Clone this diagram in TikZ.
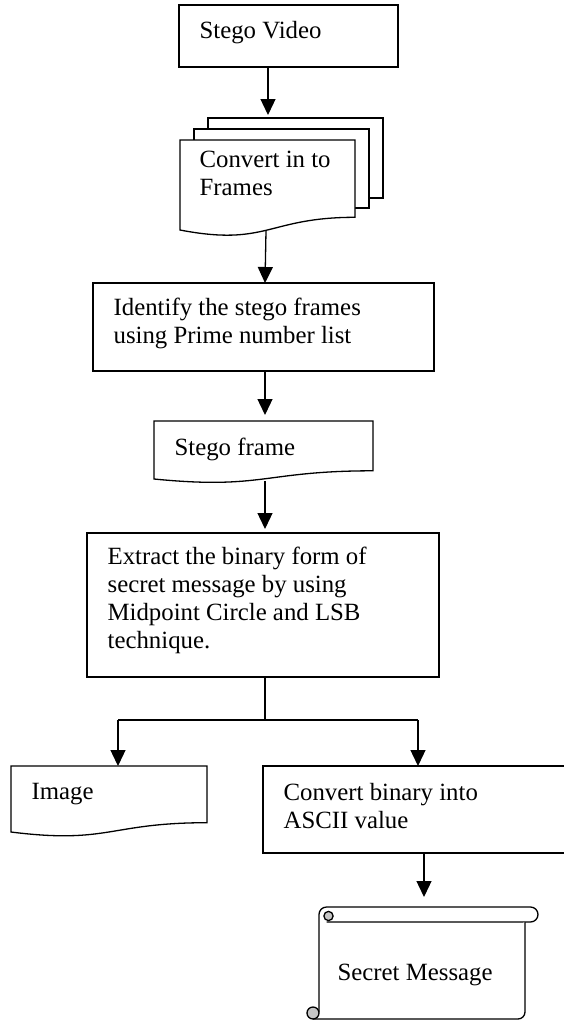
\documentclass[tikz,border=0pt]{standalone}
\usepackage{fontspec}
\setmainfont{Liberation Serif}
\usetikzlibrary{arrows.meta}
\begin{document}
\begin{tikzpicture}[x=1pt,y=-1pt,line width=1.3pt,
  txt/.style={anchor=base west,inner sep=0pt,font=\fontsize{24.8}{28}\selectfont},
  box/.style={draw,rectangle,anchor=north west,inner sep=0pt,outer sep=0pt,fill=white},
  ghost/.style={rectangle,anchor=north west,inner sep=0pt,outer sep=0pt},
  arr/.style={-{Triangle[width=15pt,length=16pt]},line width=1.3pt},
  page/.style={draw,fill=white},
  curl/.style={draw,fill=gray!45}]
\useasboundingbox (0,0) rectangle (564,1021);
\clip (0,0) rectangle (564,1021);

% Stego Video
\node[box,minimum width=219pt,minimum height=62pt] (sv) at (179,5) {};
\node[txt] (tsv) at (199,38) {Stego Video};

% multi-document
\node[box,minimum width=175pt,minimum height=80pt] (back) at (208,118) {};
\node[box,minimum width=175pt,minimum height=79pt] (mid) at (194,129) {};
\draw[page] (180,140) -- (355,140) -- (355,217.3) .. controls (267.5,217.3) and (267.5,246.8) .. (180,230) -- cycle;
\node[ghost,minimum width=175pt,minimum height=90pt] (front) at (180,140) {};
\coordinate (frontb) at (266,231);
\node[txt] (tc1) at (199,167) {Convert in to};
\node[txt] (tc2) at (199,195) {Frames};

% Identify
\node[box,minimum width=341pt,minimum height=88pt] (id) at (93,283) {};
\node[txt] (ti1) at (113,315) {Identify the stego frames};
\node[txt] (ti2) at (113,343) {using Prime number list};

% Stego frame document
\draw[page] (154,421) -- (373,421) -- (373,470.8) .. controls (263.5,470.8) and (263.5,489.8) .. (154,479) -- cycle;
\node[ghost,minimum width=219pt,minimum height=58pt] (sf) at (154,421) {};
\coordinate (sfb) at (265,481);
\node[txt] (tsf) at (174,455) {Stego frame};

% Extract
\node[box,minimum width=352pt,minimum height=144pt] (ex) at (87,533) {};
\node[txt] (te1) at (107,564) {Extract the binary form of};
\node[txt] (te2) at (107,592) {secret message by using};
\node[txt] (te3) at (107,620) {Midpoint Circle and LSB};
\node[txt] (te4) at (107,648) {technique.};

% Image document
\draw[page] (11,766) -- (207,766) -- (207,822.7) .. controls (109,822.7) and (109,844.3) .. (11,832) -- cycle;
\node[ghost,minimum width=196pt,minimum height=66pt] (img) at (11,766) {};
\node[txt] (tim) at (31,799) {Image};

% Convert binary
\node[box,minimum width=330pt,minimum height=87pt] (cv) at (263,766) {};
\node[txt] (tcv1) at (283,800) {Convert binary into};
\node[txt] (tcv2) at (283,828) {ASCII value};

% Scroll
\draw[fill=white] (319,1012) -- (319,914.5) arc[start angle=180,end angle=270,radius=7.5]
  -- (530.5,907) arc[start angle=-90,end angle=90,radius=7.5] -- (326.5,922);
\draw[fill=white] (525,922) -- (525,1012) arc[start angle=0,end angle=90,radius=7] -- (313,1019);
\draw[curl] (328.5,916) circle[radius=4.6];
\draw[curl] (313,1013) circle[radius=6];
\node[ghost,minimum width=219pt,minimum height=112pt] (sc) at (319,907) {};
\node[txt] (tsc) at (337,980) {Secret Message};

% connectors
\draw[arr,shorten >=3pt] (sv.south -| 268,0) -- (back.north -| 268,0);
\draw[arr] (frontb) -- (id.north -| 265,0);
\draw[arr,shorten >=6pt] (id.south -| 265,0) -- (sf.north -| 265,0);
\draw[arr,shorten >=4pt] (sfb) -- (ex.north -| 265,0);
\coordinate (j) at (265,720);
\coordinate (jl) at (118,720);
\coordinate (jr) at (418,720);
\draw (ex.south -| 265,0) -- (j);
\draw (jl) -- (jr);
\draw[arr] (jl) -- (img.north -| 118,0);
\draw[arr] (jr) -- (cv.north -| 418,0);
\draw[arr,shorten >=10pt] (cv.south -| 424,0) -- (sc.north -| 424,0);
\end{tikzpicture}
\end{document}
